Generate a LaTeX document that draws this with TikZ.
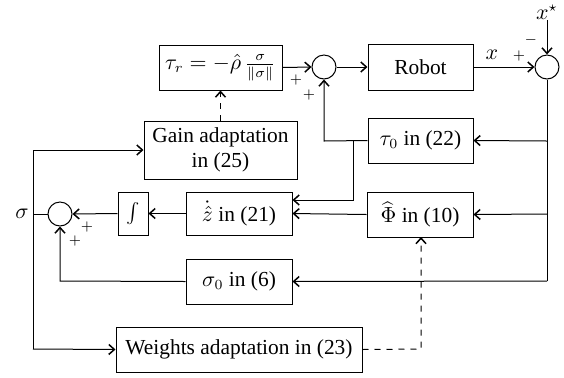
\documentclass[tikz,border=0pt]{standalone}
\usepackage{fontspec}
\setmainfont{Liberation Serif}
\newfontfamily\timesf{Liberation Serif}
\usetikzlibrary{arrows.meta}
\begin{document}
\begin{tikzpicture}[x=0.5pt,y=-0.5pt,
  every node/.style={font=\timesf\fontsize{10.7}{12.8}\selectfont},
  blk/.style={draw,inner sep=0pt,align=center},
  sumc/.style={draw,circle,minimum size=12pt,inner sep=0pt},
  sgn/.style={font=\scriptsize,inner sep=0pt},
  arr/.style={-{Straight Barb[length=2.8pt,width=5pt,line width=0.75pt]}},
  line width=0.5pt]
\useasboundingbox (0,0) rectangle (564,377);
% blocks
\node[blk,minimum width=61.5pt,minimum height=22.5pt] (taur) at (220.5,67.5) {$\tau_r=-\hat\rho\,\frac{\sigma}{\|\sigma\|}$};
\node[sumc] (s1) at (324,67) {};
\node[blk,minimum width=52.5pt,minimum height=23pt] (robot) at (420.5,67) {Robot};
\node[sumc] (s2) at (547,67) {};
\node (xs) at (547,12) {$x^{\star}$};
\node[blk,minimum width=52.5pt,minimum height=22.5pt] (tau0) at (420.5,140.5) {$\tau_0$ in (22)};
\node[blk,minimum width=76.5pt,minimum height=29pt] (gain) at (220.5,150) {Gain adaptation\\in (25)};
\node[blk,minimum width=53pt,minimum height=21.5pt] (zd) at (239,213.5) {$\dot{\hat z}$ in (21)};
\node[blk,minimum width=15pt,minimum height=21.5pt] (int) at (133,213.5) {$\int$};
\node[sumc] (s3) at (60,214) {};
\node (sig) at (22,214) {$\sigma$};
\node[blk,minimum width=53pt,minimum height=22.5pt] (phi) at (420,214.5) {$\widehat{\Phi}$ in (10)};
\node[blk,minimum width=53pt,minimum height=22.5pt] (sig0) at (239,281.5) {$\sigma_0$ in (6)};
\node[blk,minimum width=123pt,minimum height=22.5pt] (wts) at (239,349.5) {Weights adaptation in (23)};
% sign labels
\node[sgn] (p1) at (296,80) {$+$};
\node[sgn] (p2) at (309,95) {$+$};
\node[sgn] (p3) at (519,56) {$+$};
\node[sgn] (m1) at (531,40) {$-$};
\node[sgn] (p4) at (87,227) {$+$};
\node[sgn] (p5) at (75,241) {$+$};
% coordinates
\coordinate (xsb) at (547,20);
\coordinate (rc1) at (547,141);
\coordinate (rc2) at (547,214);
\coordinate (rc3) at (547,281);
\coordinate (t1) at (324,141);
\coordinate (b1) at (353,141);
\coordinate (b2) at (353,200);
\coordinate (zin) at (292.5,200);
\coordinate (v1) at (33,150);
\coordinate (v2) at (33,214);
\coordinate (v3) at (33,349);
\coordinate (g1) at (60,281);
\coordinate (d1) at (421,349);
\coordinate (d2) at (421,237);
% top row
\draw[arr] (taur.east) -- (s1.west);
\draw[arr] (s1.east) -- (robot.west);
\draw[arr] (robot.east) -- node[above,pos=0.3] (xl) {$x$} (s2.west);
\draw[arr] (xsb) -- (s2.north);
% right feedback
\draw (s2.south) -- (rc3);
\draw[arr] (rc1) -- (tau0.east);
\draw[arr] (rc2) -- (phi.east);
\draw[arr] (rc3) -- (sig0.east);
% tau0 output
\draw[arr] (tau0.west) -- (t1) -- (s1.south);
\draw[arr] (b1) -- (b2) -- (zin);
% middle row
\draw[arr] (phi.west) -- (zd.east);
\draw[arr] (zd.west) -- (int.east);
\draw[arr] (int.west) -- (s3.east);
\draw[arr] (sig0.west) -- (g1) -- (s3.south);
% sigma distribution
\draw (s3.west) -- (v2);
\draw (v1) -- (v3);
\draw[arr] (v1) -- (gain.west);
\draw[arr] (v3) -- (wts.west);
% dashed
\draw[arr,dashed] (gain.north) -- (taur.south);
\draw[arr,dashed] (wts.east) -- (d1) -- (d2);
\end{tikzpicture}
\end{document}
